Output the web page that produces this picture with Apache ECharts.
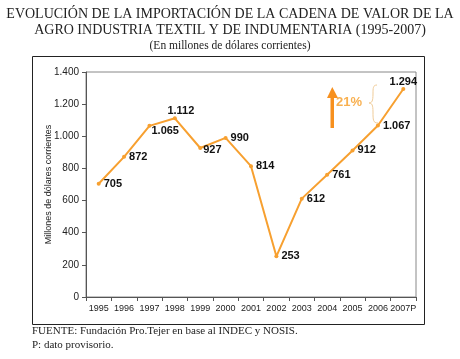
<!DOCTYPE html>
<html><head><meta charset="utf-8">
<script src="https://cdn.jsdelivr.net/npm/echarts@6/dist/echarts.min.js"></script>
<style>html,body{margin:0;padding:0;background:#fff}#c{width:460px;height:359px}</style>
</head><body><div id="c"></div>
<script>
const categories = ['1995','1996','1997','1998','1999','2000','2001','2002','2003','2004','2005','2006','2007P'];
const values = [705, 872, 1065, 1112, 927, 990, 814, 253, 612, 761, 912, 1067, 1294];
const yTicks = [0, 200, 400, 600, 800, 1000, 1200, 1400];

const fmt = v => String(v).replace(/\B(?=(\d{3})+(?!\d))/g, '.');
const labelPos = ['right','right','right','top','right','right','right','right','right','right','right','right','top'];
const labelOff = [[0,0],[0,0],[-3,5],[6,3],[-2,2],[0,0],[0,0],[0,0],[0,0],[0,0],[0,0],[0,0],[0,3]];

const chart = echarts.init(document.getElementById('c'));
const serif = '"Liberation Serif","Times New Roman",serif';
const sans = '"Liberation Sans",Arial,sans-serif';
const braceColor = '#EFCB98';
const brace = (x1,y1,x2,y2,c1x,c1y,c2x,c2y) => ({type: 'bezierCurve', shape: {x1, y1, x2, y2, cpx1: c1x, cpy1: c1y, cpx2: c2x, cpy2: c2y}, style: {fill: 'none', stroke: braceColor, lineWidth: 1}});

chart.setOption({
  animation: false,
  grid: {left: 86, right: 44, top: 72, bottom: 62, show: true, borderColor: '#888', borderWidth: 1},
  xAxis: {
    type: 'category', data: categories, boundaryGap: true,
    axisLine: {lineStyle: {color: '#555'}},
    axisTick: {show: true, alignWithLabel: false, lineStyle: {color: '#555'}, length: 4},
    axisLabel: {color: '#222', fontSize: 9, fontFamily: sans, margin: 7, interval: 0}
  },
  yAxis: {
    type: 'value', min: 0, max: 1400, interval: 200,
    name: 'Millones de dólares corrientes', nameLocation: 'middle', nameGap: 33, nameMoveOverlap: false,
    nameTextStyle: {fontSize: 9, fontFamily: sans, color: '#222'},
    splitLine: {show: false},
    axisLine: {show: true, lineStyle: {color: '#555'}},
    axisTick: {show: true, lineStyle: {color: '#555'}, length: 4},
    axisLabel: {color: '#222', fontSize: 10, fontFamily: sans, margin: 7, formatter: v => fmt(v)}
  },
  series: [{
    type: 'line', data: values.map((v, i) => ({value: v, label: {position: labelPos[i], offset: labelOff[i]}})),
    symbol: 'circle', symbolSize: 4,
    lineStyle: {color: '#F7A030', width: 2},
    itemStyle: {color: '#F7A030'},
    label: {show: true, formatter: p => fmt(p.value), fontSize: 11, fontWeight: 'bold', fontFamily: sans, color: '#111', distance: 3}
  }],
  graphic: [
    {type: 'rect', shape: {x: 32.5, y: 56.5, width: 392, height: 268}, style: {fill: 'none', stroke: '#222', lineWidth: 1}, z: -1},
    {type: 'text', left: 'center', top: 7, style: {text: 'EVOLUCIÓN DE LA IMPORTACIÓN DE LA CADENA DE VALOR DE LA', font: '14px ' + serif, fill: '#222'}},
    {type: 'text', left: 'center', top: 23, style: {text: 'AGRO INDUSTRIA TEXTIL Y DE INDUMENTARIA (1995-2007)', font: '14px ' + serif, fill: '#222'}},
    {type: 'text', left: 'center', top: 40, style: {text: '(En millones de dólares corrientes)', font: '11.5px ' + serif, fill: '#222'}},
    {type: 'text', left: 32, top: 326, style: {text: 'FUENTE: Fundación Pro.Tejer en base al INDEC y NOSIS.', font: '11px ' + serif, fill: '#222'}},
    {type: 'text', left: 32, top: 340, style: {text: 'P: dato provisorio.', font: '11px ' + serif, fill: '#222'}},
    {type: 'rect', shape: {x: 330.5, y: 97, width: 3.5, height: 31}, style: {fill: '#F7901E'}},
    {type: 'polygon', shape: {points: [[327, 98], [338, 98], [332.3, 87]]}, style: {fill: '#F7901E'}},
    {type: 'text', left: 336, top: 96, style: {text: '21%', font: 'bold 13px ' + sans, fill: '#F8B050'}},
    brace(377, 85, 373, 94, 373, 85, 373, 88),
    brace(373, 94, 369, 103, 373, 101, 372, 103),
    brace(369, 103, 373, 112, 372, 103, 373, 105),
    brace(373, 112, 378, 123, 373, 120, 373, 123)
  ]
});
</script></body></html>
